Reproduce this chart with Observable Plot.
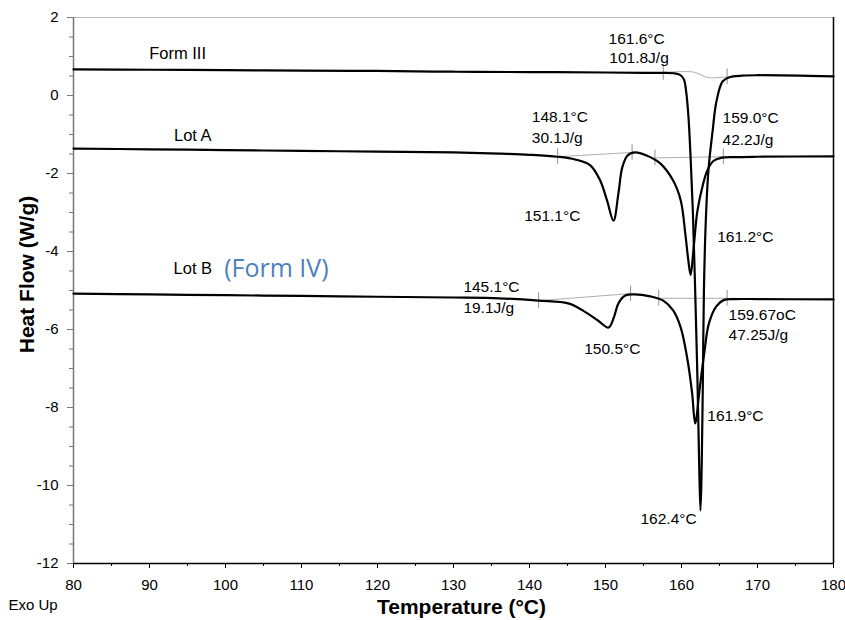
<!DOCTYPE html>
<html>
<head>
<meta charset="utf-8">
<script src="https://cdn.jsdelivr.net/npm/d3@7"></script>
<script src="https://cdn.jsdelivr.net/npm/@observablehq/plot@0.6"></script>
<style>
  html, body { margin: 0; padding: 0; background: #fff; }
</style>
</head>
<body>
<div id="chart"></div>
<script>
// Temperature (°C), Heat flow (W/g)
const formIII = [
  [80, 0.67], [90, 0.66], [100, 0.65], [110, 0.64], [120, 0.63], [130, 0.61],
  [140, 0.60], [150, 0.59], [155, 0.58], [157.5, 0.58], [159.0, 0.57], [159.8, 0.53],
  [160.3, 0.42], [160.6, 0.12], [160.9, -0.5], [161.2, -1.6], [161.5, -3.0],
  [161.8, -5.0], [162.1, -7.3], [162.35, -9.7], [162.5, -10.64], [162.65, -9.6],
  [162.8, -7.5], [162.95, -5.0], [163.2, -3.2], [163.55, -1.9], [164.1, -0.9],
  [164.6, -0.15], [165.4, 0.36], [166.3, 0.47], [168, 0.51], [170, 0.52], [180, 0.49]
];
const lotA = [
  [80, -1.36], [90, -1.38], [100, -1.40], [110, -1.42], [120, -1.44], [130, -1.46],
  [136, -1.49], [140, -1.52], [143.7, -1.57], [146, -1.64], [148, -1.79],
  [149.3, -2.18], [150.2, -2.69], [151.05, -3.21], [151.7, -2.51], [152.2, -1.85],
  [152.9, -1.54], [153.9, -1.46], [155.4, -1.54], [157.2, -1.74], [158.9, -2.18],
  [159.9, -2.69], [160.5, -3.54], [160.9, -4.23], [161.2, -4.6], [161.6, -3.9],
  [162.1, -2.95], [162.8, -2.3], [163.4, -1.92], [164.2, -1.68], [165.2, -1.6],
  [167, -1.58], [170, -1.57], [180, -1.56]
];
const lotB = [
  [80, -5.08], [90, -5.10], [100, -5.12], [110, -5.14], [120, -5.16], [130, -5.18],
  [136, -5.20], [141.2, -5.26], [145.1, -5.33], [147, -5.51], [149, -5.77],
  [150.4, -5.95], [151.1, -5.69], [151.7, -5.33], [152.6, -5.13], [153.7, -5.10],
  [155.9, -5.15], [157.6, -5.26], [158.9, -5.51], [159.9, -5.95], [160.8, -6.79],
  [161.4, -7.64], [161.8, -8.41], [162.4, -7.5], [163.0, -6.6], [163.6, -5.85],
  [164.6, -5.4], [165.6, -5.24], [167, -5.22], [170, -5.22], [180, -5.23]
];

// integration baselines (thin grey)
const baseIII = [[157.6, 0.59], [161.6, 0.60], [163.5, 0.46], [166, 0.48]];
const baseA1 = [[143.7, -1.57], [153.5, -1.46]];
const baseA2 = [[156.5, -1.60], [165.5, -1.57]];
const baseB1 = [[141.2, -5.26], [153.3, -5.08]];
const baseB2 = [[157.0, -5.20], [166.0, -5.20]];
// small limit markers on the traces
const markT = [157.6, 166, 143.7, 153.5, 156.5, 165.5, 141.2, 153.3, 157.0, 166.0];
const markV = [0.59, 0.48, -1.57, -1.46, -1.60, -1.57, -5.26, -5.08, -5.20, -5.20];

// series names
const seriesNames = ["Form III", "Lot A", "Lot B"];
const seriesT = [93.7, 95.7, 95.7];
const seriesV = [1.08, -1.03, -4.44];

// annotations
const annLabels = ["161.6°C", "101.8J/g", "148.1°C", "30.1J/g", "159.0°C", "42.2J/g",
  "151.1°C", "161.2°C", "145.1°C", "19.1J/g", "150.5°C", "159.67oC", "47.25J/g",
  "161.9°C", "162.4°C"];
const annT = [150.4, 150.5, 140.3, 140.3, 165.4, 165.4, 139.3, 164.7, 131.3, 131.3,
  147.2, 166.2, 166.2, 163.4, 154.6];
const annV = [1.46, 0.97, -0.56, -1.08, -0.59, -1.15, -3.08, -3.64, -4.92, -5.44,
  -6.49, -5.62, -6.15, -8.23, -10.85];

const xMajor = d3.range(80, 181, 10);
const xMinor = d3.range(85, 180, 10);
const yMajor = d3.range(-12, 2.01, 2);
const yMinor = d3.range(-12, 2.01, 0.5);

const idx = (a) => a.map((_, i) => i);
const thin = {x: d => d[0], y: d => d[1], stroke: "#999", strokeWidth: 0.8};

const chart = Plot.plot({
  width: 845,
  height: 620,
  marginLeft: 73,
  marginRight: 12,
  marginTop: 17,
  marginBottom: 57,
  style: {fontFamily: "'Liberation Sans', Arial, sans-serif", fontSize: "15px", background: "#fff", color: "#000"},
  x: {domain: [80, 180]},
  y: {domain: [-12, 2]},
  marks: [
    // frame
    Plot.ruleY([2], {stroke: "#bbb", strokeWidth: 1}),
    Plot.ruleX([180], {stroke: "#000", strokeWidth: 1.5}),
    Plot.ruleY([-12], {stroke: "#000", strokeWidth: 1.5}),
    Plot.ruleX([80], {stroke: "#777", strokeWidth: 1.5}),
    // axes
    Plot.axisY({ticks: yMinor, tickSize: 4, tickFormat: () => "", label: null, stroke: "#777"}),
    Plot.axisY({ticks: yMajor, tickSize: 6, tickPadding: 9, tickFormat: d => String(d), label: null, stroke: "#777", fontSize: 15}),
    Plot.axisX({ticks: xMinor, tickSize: 3, tickFormat: () => "", label: null}),
    Plot.axisX({ticks: xMajor, tickSize: 5, tickPadding: 11, tickFormat: d => String(d), label: null, fontSize: 15}),
    // integration baselines
    Plot.line(baseIII, {...thin, curve: "catmull-rom"}),
    Plot.line(baseA1, thin),
    Plot.line(baseA2, thin),
    Plot.line(baseB1, thin),
    Plot.line(baseB2, thin),
    Plot.ruleX(idx(markT), {x: i => markT[i], y1: i => markV[i] - 0.2, y2: i => markV[i] + 0.2, stroke: "#777", strokeWidth: 0.8}),
    // traces
    Plot.line(formIII, {x: d => d[0], y: d => d[1], stroke: "#000", strokeWidth: 2.2, curve: "catmull-rom"}),
    Plot.line(lotA, {x: d => d[0], y: d => d[1], stroke: "#000", strokeWidth: 2.2, curve: "catmull-rom"}),
    Plot.line(lotB, {x: d => d[0], y: d => d[1], stroke: "#000", strokeWidth: 2.2, curve: "catmull-rom"}),
    // series names
    Plot.text(idx(seriesNames), {x: i => seriesT[i], y: i => seriesV[i], text: i => seriesNames[i], fontSize: 16.5}),
    Plot.text(["(Form IV)"], {x: 106.7, y: -4.44, text: d => d, fill: "#4f81bd", fontSize: 25, fontFamily: "'Open Sans', 'Noto Sans', sans-serif"}),
    // annotations
    Plot.text(idx(annLabels), {x: i => annT[i], y: i => annV[i], text: i => annLabels[i], textAnchor: "start", fontSize: 15.5}),
    // axis titles
    Plot.text(["Heat Flow (W/g)"], {frameAnchor: "left", textAnchor: "middle", rotate: -90, dx: -46, dy: -16, text: d => d, fontSize: 21, fontWeight: "bold"}),
    Plot.text(["Temperature (°C)"], {frameAnchor: "bottom", dx: 8, dy: 50, text: d => d, fontSize: 21, fontWeight: "bold"}),
    Plot.text(["Exo Up"], {frameAnchor: "bottom-left", dx: -65, dy: 46, textAnchor: "start", text: d => d, fontSize: 15})
  ]
});
document.getElementById("chart").appendChild(chart);
</script>
</body>
</html>
